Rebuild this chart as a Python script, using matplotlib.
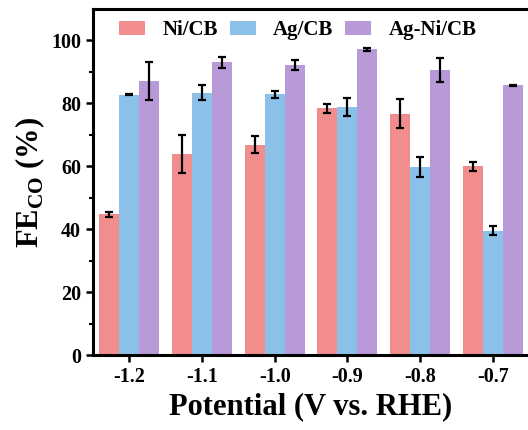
import matplotlib
matplotlib.use('Agg')
import matplotlib.pyplot as plt
import numpy as np

# potentials (V vs. RHE) and Faradaic efficiency of CO, %
potentials = ['-1.2', '-1.1', '-1.0', '-0.9', '-0.8', '-0.7']
ni_cb = [44.8, 63.9, 66.9, 78.4, 76.8, 60.0]
ni_cb_err = [0.8, 6.1, 2.6, 1.3, 4.5, 1.4]
ag_cb = [82.8, 83.4, 82.9, 78.8, 59.8, 39.6]
ag_cb_err = [0.2, 2.3, 1.2, 2.8, 3.1, 1.4]
agni_cb = [87.1, 93.1, 92.1, 97.2, 90.6, 85.7]
agni_cb_err = [6.0, 1.7, 1.6, 0.4, 3.9, 0.2]

labels = ['Ni/CB', 'Ag/CB', 'Ag-Ni/CB']
colors = ['#F28D8D', '#8BC1E9', '#B89AD8']


def main():
    plt.rcParams['font.family'] = 'Liberation Serif'
    plt.rcParams['font.weight'] = 'bold'
    plt.rcParams['mathtext.fontset'] = 'custom'
    plt.rcParams['mathtext.rm'] = 'Liberation Serif:bold'

    fig = plt.figure(figsize=(5.28, 4.30), dpi=100)
    ax = fig.add_axes([0.176, 0.174, 0.826, 0.805])

    x = np.arange(len(potentials))
    w = 0.276
    series = [(ni_cb, ni_cb_err), (ag_cb, ag_cb_err), (agni_cb, agni_cb_err)]
    for i, (vals, errs) in enumerate(series):
        ax.bar(x + (i - 1) * w, vals, w, color=colors[i], label=labels[i],
               yerr=errs, capsize=3,
               error_kw=dict(ecolor='black', elinewidth=1.6, capthick=1.6))

    ax.set_xlim(-0.5, 5.5)
    ax.set_ylim(0, 110)
    ax.set_xticks(x)
    ax.set_xticklabels(potentials)
    ax.set_yticks([0, 20, 40, 60, 80, 100])
    ax.set_yticks(np.arange(10, 110, 20), minor=True)
    ax.tick_params(axis='both', which='major', labelsize=14.5, width=1.8, length=5, direction='out')
    ax.tick_params(axis='y', which='minor', width=1.5, length=3, direction='out')

    for s in ['left', 'bottom', 'top']:
        ax.spines[s].set_linewidth(2.2)
    ax.spines['right'].set_visible(False)

    ax.set_xlabel('Potential (V vs. RHE)', fontsize=22, fontweight='bold', labelpad=4)
    ax.set_ylabel('FE$_{\\mathrm{CO}}$ (%)', fontsize=22, fontweight='bold', labelpad=3)

    ax.legend(loc='upper left', bbox_to_anchor=(0.041, 0.992), ncol=3, frameon=False,
              fontsize=15, handlelength=1.25, handleheight=0.63, columnspacing=0.58,
              handletextpad=0.82, borderaxespad=0.0)

    fig.savefig('out.png', dpi=100)


if __name__ == '__main__':
    main()
